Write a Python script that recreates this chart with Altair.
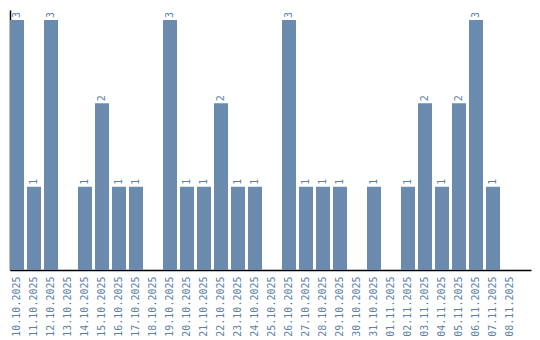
import altair as alt
import pandas as pd

dates = ["10.10.2025", "11.10.2025", "12.10.2025", "13.10.2025", "14.10.2025",
         "15.10.2025", "16.10.2025", "17.10.2025", "18.10.2025", "19.10.2025",
         "20.10.2025", "21.10.2025", "22.10.2025", "23.10.2025", "24.10.2025",
         "25.10.2025", "26.10.2025", "27.10.2025", "28.10.2025", "29.10.2025",
         "30.10.2025", "31.10.2025", "01.11.2025", "02.11.2025", "03.11.2025",
         "04.11.2025", "05.11.2025", "06.11.2025", "07.11.2025", "08.11.2025"]
counts = [3, 1, 3, 0, 1, 2, 1, 1, 0, 3,
          1, 1, 2, 1, 1, 0, 3, 1, 1, 1,
          0, 1, 0, 1, 2, 1, 2, 3, 1, 0]

df = pd.DataFrame({"date": dates, "count": counts})
df["label"] = [str(c) if c > 0 else "" for c in counts]

BAR = "#6a8bad"
TXT = "#5a7fa8"
FONT = "DejaVu Sans Mono"

x = alt.X("date:N", sort=dates, title=None,
          scale=alt.Scale(paddingInner=3 / 17, paddingOuter=0.4118, align=0),
          axis=alt.Axis(labelAngle=-90, labelFont=FONT, labelFontSize=10,
                        labelColor=TXT, ticks=False, labelPadding=6,
                        domainColor="#000000", domainWidth=1.5, grid=False))
y = alt.Y("count:Q", title=None,
          scale=alt.Scale(domain=[0, 3.12], nice=False, zero=True),
          axis=alt.Axis(labels=False, ticks=False, grid=False,
                        domainColor="#000000", domainWidth=1.5))

bars = alt.Chart(df).mark_bar(color=BAR).encode(x=x, y=y)
text = alt.Chart(df).mark_text(
    angle=270, align="left", baseline="middle", dx=2,
    font=FONT, fontSize=10, color=TXT
).encode(x=alt.X("date:N", sort=dates), y=alt.Y("count:Q"), text="label:N")

chart = (bars + text).properties(
    width=521, height=260,
    autosize=alt.AutoSizeParams(type="none"),
    padding={"left": 10, "top": 10, "right": 9, "bottom": 70},
).configure(background="white").configure_view(stroke=None, strokeWidth=0)

chart.save("out.html", embed_options={"renderer": "svg", "actions": False})
